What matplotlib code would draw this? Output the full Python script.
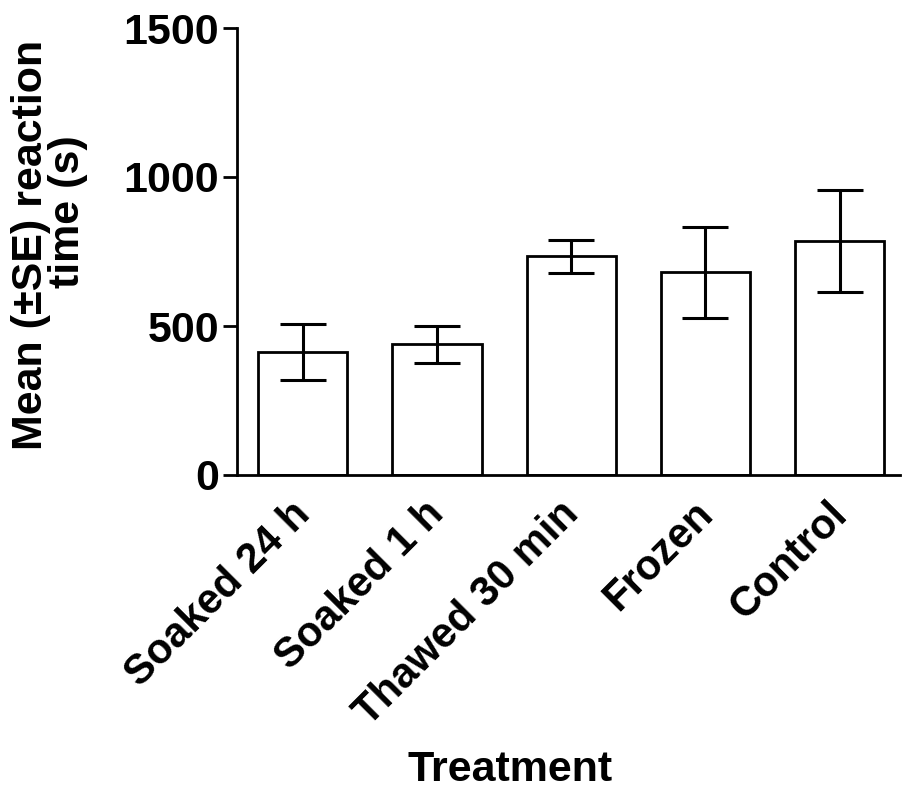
import matplotlib
matplotlib.use('Agg')
import matplotlib.pyplot as plt
import matplotlib.transforms as mtransforms

#Chart data
treatments = ['Soaked 24 h', 'Soaked 1 h', 'Thawed 30 min', 'Frozen', 'Control']
meanTime = [414, 439, 734, 680, 784]
seTime = [94, 62, 56, 152, 171]
yTicks = [0, 500, 1000, 1500]

plt.rcParams['font.family'] = ['Liberation Sans', 'DejaVu Sans']
plt.rcParams['font.weight'] = 'bold'

fig = plt.figure(figsize=(9.02, 7.91), dpi=100)
ax = fig.add_axes([237 / 902, 1 - 475 / 791, 663 / 902, 447 / 791])

positions = list(range(len(treatments)))

#Open bars with black outlines
ax.bar(positions, meanTime, width=0.665, color='white', edgecolor='black',
       linewidth=2.0, zorder=2)

#Standard error whiskers drawn over the bars
ax.errorbar(positions, meanTime, yerr=seTime, fmt='none', ecolor='black',
            elinewidth=2.2, capsize=16.5, capthick=2.2, zorder=3)

ax.set_xlim(-0.49, 4.45)
ax.set_ylim(0, 1500)
ax.set_yticks(yTicks)
ax.set_yticklabels([str(t) for t in yTicks], fontsize=31, fontweight='bold')

#Rotated category labels, written as plain texts below each bar
ax.set_xticks(positions)
ax.set_xticklabels([])
shift = mtransforms.ScaledTranslation(-0.13, -0.19, fig.dpi_scale_trans)
for pos, name in zip(positions, treatments):
    ax.text(pos, 0, name, transform=ax.get_xaxis_transform() + shift,
            fontsize=30, fontweight='bold', rotation=45,
            ha='right', va='top', rotation_mode='anchor')

ax.tick_params(axis='x', length=0)
ax.tick_params(axis='y', length=10, width=2.0, direction='out', pad=3)

for side in ['top', 'right']:
    ax.spines[side].set_visible(False)
for side in ['left', 'bottom']:
    ax.spines[side].set_linewidth(2.0)

#Y title in two lines
fig.text(51 / 902, 1 - 245 / 791, 'Mean (\u00b1SE) reaction', fontsize=31,
         fontweight='bold', rotation=90, ha='right', va='center')
fig.text(88 / 902, 1 - 212 / 791, 'time (s)', fontsize=31,
         fontweight='bold', rotation=90, ha='right', va='center')

ax.set_xlabel('Treatment', fontsize=31, fontweight='bold')
ax.xaxis.set_label_coords(0.412, -0.615)

fig.savefig('out.png', dpi=100)
